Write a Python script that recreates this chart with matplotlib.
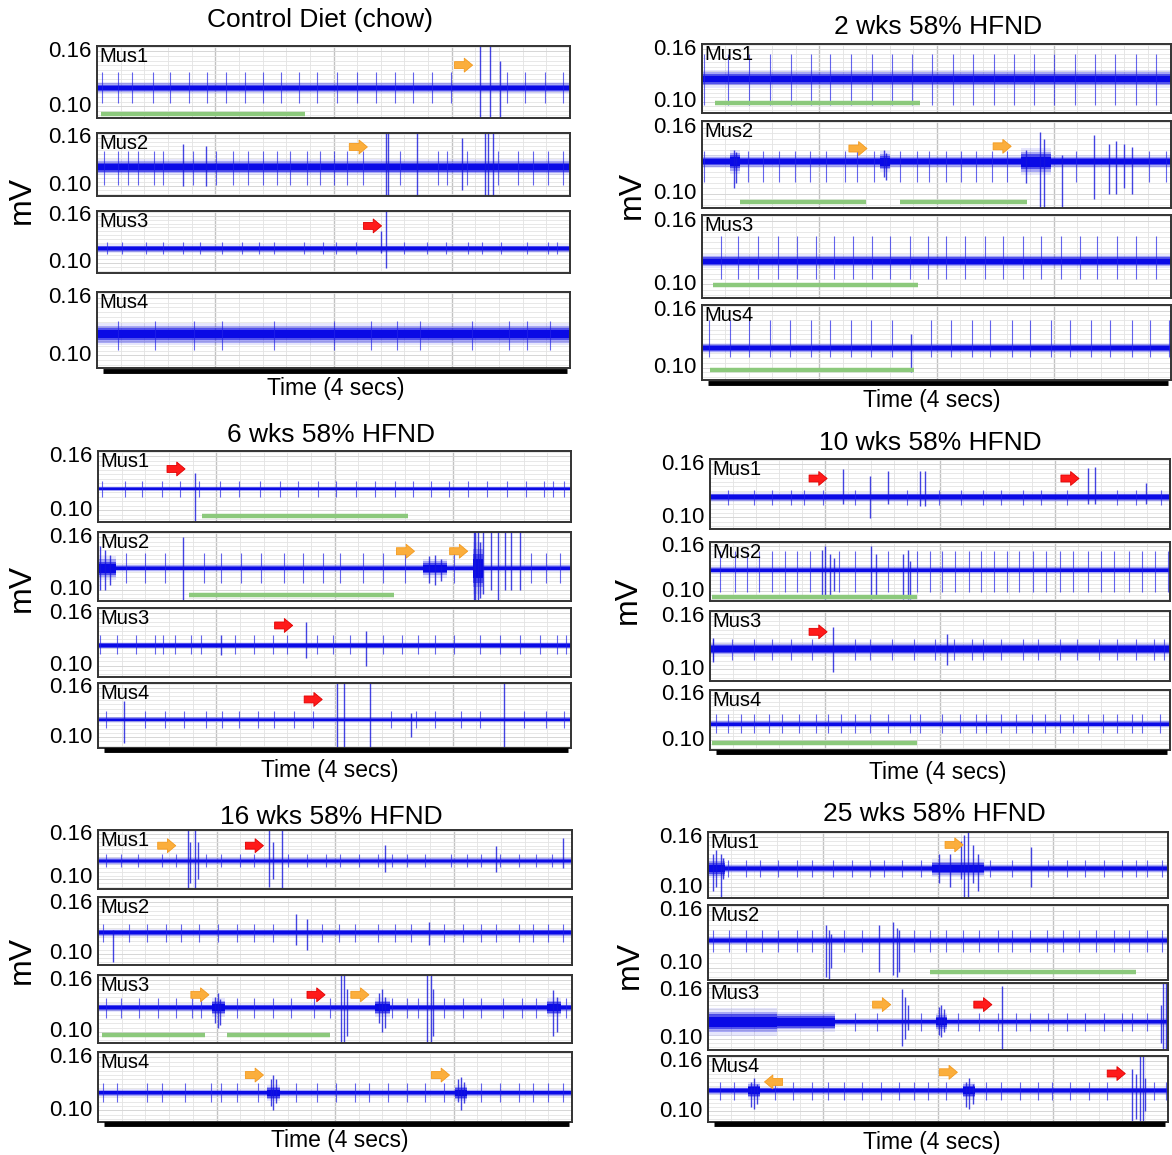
import numpy as np
import matplotlib
matplotlib.use('Agg')
import matplotlib.pyplot as plt
from matplotlib.transforms import offset_copy, blended_transform_factory

plt.rcParams['font.family'] = ['Liberation Sans', 'DejaVu Sans']

# ------------------------------------------------------------------ data
MUSCLES = ['Mus1', 'Mus2', 'Mus3', 'Mus4']
YTICKS = [0.10, 0.16]
YTICK_LABELS = ['0.10', '0.16']
YLABEL = 'mV'
TIME_LABEL = 'Time (4 secs)'
TITLES = ['Control Diet (chow)', '2 wks 58% HFND', '6 wks 58% HFND',
          '10 wks 58% HFND', '16 wks 58% HFND', '25 wks 58% HFND']

# ---- Control
ctrl_base = [0.120, 0.123, 0.118, 0.122]
ctrl_noise = [0.0050, 0.0075, 0.0040, 0.0085]
ctrl_up = [0.017, 0.020, 0.008, 0.014]
ctrl_dn = [0.017, 0.022, 0.007, 0.016]
ctrl_spikes = [
    [0.04, 0.18, 0.30, 0.47, 0.62, 0.78, 0.93, 1.09, 1.25, 1.40, 1.56, 1.71, 1.86, 2.03, 2.20,
     2.36, 2.52, 2.67, 2.83, 2.99, 3.47, 3.62, 3.79, 3.94],
    [0.06, 0.18, 0.26, 0.35, 0.48, 0.56, 0.81, 1.01, 1.15, 1.28, 1.40, 1.52, 1.63, 1.78, 1.89,
     2.00, 2.11, 2.25, 2.56, 2.88, 2.96, 3.13, 3.39, 3.56, 3.69, 3.81, 3.94],
    [0.085, 0.21, 0.415, 0.557, 0.73, 0.87, 1.06, 1.23, 1.37, 1.50, 1.75, 1.91, 2.02, 2.19,
     2.60, 2.79, 2.95, 3.14, 3.26, 3.42, 3.64, 3.81, 3.89],
    [0.18, 0.49, 0.82, 1.06, 1.50, 2.00, 2.32, 2.54, 2.73, 3.17, 3.48, 3.64, 3.83],
]
ctrl_bursts = [
    [(3.24, 0.166, 0.087), (3.32, 0.166, 0.087), (3.41, 0.150, 0.087)],
    [(0.73, 0.152, 0.100), (0.92, 0.150, 0.100), (2.44, 0.166, 0.087), (2.46, 0.166, 0.087),
     (2.71, 0.166, 0.087), (3.09, 0.160, 0.095), (3.28, 0.166, 0.087), (3.31, 0.166, 0.087),
     (3.35, 0.166, 0.087)],
    [(2.40, 0.140, 0.112), (2.44, 0.166, 0.093)],
    [],
]
ctrl_green = [[(0.03, 1.76, 0.091)], [], [], []]
ctrl_arrows = [[(3.10, 0.145, 'o', 'r')], [(2.21, 0.1485, 'o', 'r')], [(2.33, 0.147, 'r', 'r')], []]
ctrl_extra = [[], [], [], []]

# ---- 2 wks
w2_base = [0.126, 0.129, 0.122, 0.1207]
w2_noise = [0.0075, 0.0045, 0.0050, 0.0040]
w2_up = [0.028, 0.010, 0.024, 0.030]
w2_dn = [0.030, 0.018, 0.017, 0.010]
w2_spikes = [
    [0.02, 0.22, 0.40, 0.58, 0.76, 0.93, 1.09, 1.27, 1.45, 1.62, 1.79, 1.96, 2.14, 2.31, 2.49,
     2.66, 2.83, 3.00, 3.18, 3.35, 3.52, 3.70, 3.87],
    [0.02, 0.39, 0.52, 0.66, 0.79, 0.92, 1.06, 1.22, 1.32, 1.47, 1.69, 1.83, 1.94, 2.08, 2.21,
     2.34, 2.47, 2.60, 3.19, 3.81, 3.96],
    [0.16, 0.31, 0.48, 0.65, 0.81, 0.97, 1.13, 1.29, 1.45, 1.60, 1.77, 1.93, 2.08, 2.24, 2.41,
     2.57, 2.74, 2.89, 3.06, 3.22, 3.37, 3.54, 3.70, 3.87],
    [0.06, 0.24, 0.40, 0.58, 0.75, 0.93, 1.09, 1.27, 1.44, 1.62, 1.95, 2.12, 2.30, 2.46, 2.64,
     2.80, 2.98, 3.14, 3.32, 3.48, 3.67, 3.82, 3.98],
]
w2_bursts = [
    [],
    [(0.27, 0.140, 0.105), (0.29, 0.138, 0.110), (1.55, 0.140, 0.115), (1.57, 0.137, 0.112),
     (2.76, 0.140, 0.110), (2.88, 0.156, 0.087), (2.92, 0.150, 0.087), (3.07, 0.135, 0.087),
     (3.34, 0.153, 0.095), (3.47, 0.145, 0.100), (3.53, 0.148, 0.100), (3.60, 0.145, 0.105),
     (3.67, 0.142, 0.100)],
    [],
    [(1.78, 0.135, 0.095)],
]
w2_green = [[(0.11, 1.86, 0.0985)], [(0.32, 1.40, 0.0925), (1.69, 2.77, 0.0925)],
            [(0.09, 1.84, 0.0993)], [(0.07, 1.81, 0.0975)]]
w2_arrows = [[], [(1.33, 0.141, 'o', 'r'), (2.56, 0.143, 'o', 'r')], [], []]
w2_extra = [[], [(0.24, 0.32, 0.008), (1.52, 1.60, 0.007), (2.72, 2.98, 0.009)], [], []]

# ---- 6 wks
w6_base = [0.124, 0.1246, 0.123, 0.1214]
w6_noise = [0.0022, 0.0035, 0.0032, 0.0028]
w6_up = [0.009, 0.017, 0.012, 0.011]
w6_dn = [0.009, 0.017, 0.010, 0.010]
w6_spikes = [
    [0.03, 0.23, 0.37, 0.54, 0.69, 0.85, 1.03, 1.19, 1.37, 1.54, 1.69, 1.86, 2.01, 2.18, 2.34,
     2.51, 2.66, 2.82, 2.97, 3.13, 3.29, 3.46, 3.62, 3.77, 3.85, 3.94],
    [0.24, 0.40, 0.57, 0.90, 1.04, 1.21, 1.38, 1.57, 1.73, 1.90, 2.05, 2.24, 2.41, 2.60, 3.01,
     3.66, 3.79, 3.91],
    [0.02, 0.16, 0.32, 0.48, 0.55, 0.65, 0.79, 0.87, 1.16, 1.32, 1.48, 1.60, 1.85, 1.99, 2.13,
     2.41, 2.57, 2.71, 2.85, 3.01, 3.23, 3.40, 3.57, 3.74, 3.88, 3.96],
    [0.07, 0.40, 0.57, 0.73, 0.91, 1.05, 1.19, 1.35, 1.49, 1.66, 1.82, 2.48, 2.69, 2.85, 3.07,
     3.23, 3.60, 3.79, 3.94],
]
w6_bursts = [
    [(0.82, 0.142, 0.087)],
    [(0.02, 0.150, 0.100), (0.06, 0.145, 0.100), (0.10, 0.140, 0.105), (0.72, 0.160, 0.087),
     (2.80, 0.138, 0.108), (2.85, 0.140, 0.105), (2.90, 0.135, 0.110), (3.18, 0.166, 0.087),
     (3.19, 0.166, 0.087), (3.21, 0.166, 0.087), (3.23, 0.155, 0.090), (3.26, 0.166, 0.095),
     (3.32, 0.166, 0.100), (3.38, 0.166, 0.087), (3.44, 0.166, 0.100), (3.49, 0.166, 0.100),
     (3.57, 0.166, 0.100)],
    [(1.04, 0.135, 0.112), (1.76, 0.150, 0.109), (2.27, 0.140, 0.100)],
    [(0.22, 0.144, 0.093), (2.02, 0.166, 0.087), (2.08, 0.166, 0.087), (2.30, 0.166, 0.087),
     (2.65, 0.130, 0.100), (3.43, 0.166, 0.087)],
]
w6_green = [[(0.88, 2.62, 0.0937)], [(0.77, 2.50, 0.0933)], [], []]
w6_arrows = [[(0.66, 0.146, 'r', 'r')], [(2.60, 0.144, 'o', 'r'), (3.05, 0.144, 'o', 'r')],
             [(1.57, 0.146, 'r', 'r')], [(1.82, 0.146, 'r', 'r')]]
w6_extra = [[], [(0.0, 0.15, 0.010), (2.75, 2.95, 0.008), (3.17, 3.26, 0.022)], [], []]

# ---- 10 wks
w10_base = [0.123, 0.1285, 0.123, 0.1208]
w10_noise = [0.0040, 0.0040, 0.0060, 0.0038]
w10_up = [0.0085, 0.025, 0.011, 0.013]
w10_dn = [0.009, 0.030, 0.012, 0.012]
w10_spikes = [
    [0.16, 0.38, 0.54, 0.70, 0.82, 0.98, 1.26, 1.71, 1.99, 2.18, 2.37, 2.53, 2.72, 2.88, 3.10,
     3.54, 3.70, 3.92],
    [0.09, 0.22, 0.32, 0.43, 0.54, 0.65, 0.76, 0.87, 1.12, 1.26, 1.55, 1.80, 1.91, 2.02, 2.13,
     2.25, 2.36, 2.47, 2.58, 2.69, 2.81, 2.92, 3.04, 3.16, 3.29, 3.40, 3.51, 3.64, 3.76, 3.87,
     3.98],
    [0.03, 0.19, 0.38, 0.54, 0.70, 0.89, 1.26, 1.39, 1.58, 1.77, 1.96, 2.12, 2.28, 2.37, 2.53,
     2.72, 2.85, 3.04, 3.19, 3.38, 3.54, 3.70, 3.86, 3.95],
    [0.05, 0.16, 0.27, 0.38, 0.51, 0.63, 0.77, 0.92, 1.03, 1.14, 1.26, 1.39, 1.55, 1.74, 1.83,
     2.02, 2.17, 2.31, 2.40, 2.53, 2.66, 2.80, 2.91, 3.04, 3.16, 3.29, 3.42, 3.54, 3.67, 3.76,
     3.91],
]
w10_bursts = [
    [(1.16, 0.1545, 0.115), (1.39, 0.147, 0.099), (1.55, 0.152, 0.115), (1.83, 0.152, 0.113),
     (1.87, 0.152, 0.113), (3.29, 0.156, 0.115), (3.35, 0.157, 0.115), (3.79, 0.139, 0.115)],
    [(0.97, 0.155, 0.092), (1.00, 0.160, 0.090), (1.04, 0.150, 0.095), (1.08, 0.145, 0.100),
     (1.40, 0.160, 0.090), (1.44, 0.150, 0.092), (1.68, 0.150, 0.090), (1.72, 0.155, 0.090),
     (1.74, 0.140, 0.090)],
    [(0.03, 0.135, 0.108), (1.07, 0.148, 0.097), (2.06, 0.140, 0.105)],
    [],
]
w10_green = [[], [(0.02, 1.80, 0.0925)], [], [(0.02, 1.80, 0.0964)]]
w10_arrows = [[(0.94, 0.144, 'r', 'r'), (3.13, 0.144, 'r', 'r')], [], [(0.94, 0.1425, 'r', 'r')], []]
w10_extra = [[], [], [], []]

# ---- 16 wks
w16_base = [0.1245, 0.1246, 0.1282, 0.1198]
w16_noise = [0.0036, 0.0035, 0.0035, 0.0035]
w16_up = [0.010, 0.010, 0.011, 0.011]
w16_dn = [0.008, 0.011, 0.012, 0.010]
w16_spikes = [
    [0.07, 0.19, 0.34, 0.54, 0.66, 0.91, 1.04, 1.20, 1.32, 1.60, 1.76, 1.92, 2.04, 2.20, 2.36,
     2.48, 2.61, 2.76, 2.98, 3.11, 3.23, 3.39, 3.55, 3.70, 3.83],
    [0.04, 0.26, 0.41, 0.57, 0.70, 0.85, 1.01, 1.17, 1.32, 1.48, 1.89, 2.03, 2.17, 2.36, 2.51,
     2.64, 2.92, 3.08, 3.23, 3.36, 3.55, 3.67, 3.80, 3.92],
    [0.07, 0.19, 0.35, 0.51, 0.66, 0.79, 0.87, 1.17, 1.32, 1.48, 1.63, 1.82, 1.96, 2.48, 2.61,
     2.70, 2.92, 3.08, 3.23, 3.42, 3.58, 3.70, 3.95],
    [0.04, 0.16, 0.41, 0.54, 0.73, 0.95, 1.04, 1.17, 1.35, 1.67, 1.85, 2.01, 2.17, 2.29, 2.45,
     2.61, 2.76, 2.92, 3.23, 3.39, 3.55, 3.67, 3.80, 3.92],
]
w16_bursts = [
    [(0.76, 0.166, 0.087), (0.78, 0.150, 0.095), (0.82, 0.166, 0.087), (0.84, 0.150, 0.100),
     (1.44, 0.166, 0.090), (1.48, 0.150, 0.100), (1.55, 0.166, 0.087), (2.42, 0.1455, 0.110),
     (3.36, 0.145, 0.110), (3.92, 0.155, 0.115)],
    [(0.13, 0.128, 0.090), (1.67, 0.146, 0.110), (1.76, 0.140, 0.105), (2.79, 0.137, 0.110)],
    [(0.99, 0.140, 0.110), (1.01, 0.145, 0.105), (1.03, 0.138, 0.108), (2.05, 0.166, 0.087),
     (2.08, 0.166, 0.087), (2.10, 0.150, 0.095), (2.37, 0.145, 0.110), (2.40, 0.150, 0.100),
     (2.42, 0.140, 0.105), (2.78, 0.166, 0.087), (2.81, 0.166, 0.087), (2.83, 0.150, 0.095),
     (3.84, 0.148, 0.095), (3.87, 0.140, 0.100)],
    [(1.46, 0.135, 0.105), (1.48, 0.140, 0.100), (1.50, 0.135, 0.108), (3.04, 0.135, 0.110),
     (3.06, 0.138, 0.100), (3.09, 0.132, 0.108)],
]
w16_green = [[], [], [(0.03, 0.90, 0.0965), (1.09, 1.96, 0.0965)], []]
w16_arrows = [[(0.58, 0.145, 'o', 'r'), (1.32, 0.145, 'r', 'r')], [],
              [(0.86, 0.143, 'o', 'r'), (1.84, 0.143, 'r', 'r'), (2.21, 0.143, 'o', 'r')],
              [(1.32, 0.140, 'o', 'r'), (2.89, 0.140, 'o', 'r')]]
w16_extra = [[], [], [(0.96, 1.07, 0.008), (2.34, 2.46, 0.008), (3.79, 3.91, 0.008)],
             [(1.43, 1.54, 0.007), (3.01, 3.11, 0.007)]]

# ---- 25 wks
w25_base = [0.1225, 0.1286, 0.1202, 0.1244]
w25_noise = [0.0042, 0.0037, 0.0034, 0.0037]
w25_up = [0.010, 0.011, 0.011, 0.010]
w25_dn = [0.010, 0.012, 0.011, 0.011]
w25_spikes = [
    [0.17, 0.33, 0.45, 0.61, 0.77, 0.90, 1.09, 1.25, 1.41, 1.53, 1.69, 1.85, 2.45, 2.64, 2.96,
     3.12, 3.28, 3.44, 3.60, 3.72, 3.82, 3.95],
    [0.04, 0.18, 0.33, 0.47, 0.61, 0.77, 0.90, 1.18, 1.34, 1.79, 1.93, 2.07, 2.22, 2.36, 2.52,
     2.64, 2.80, 2.95, 3.09, 3.23, 3.37, 3.53, 3.66, 3.82, 3.95],
    [1.28, 1.47, 1.85, 2.17, 2.36, 2.52, 2.68, 2.80, 2.96, 3.12, 3.28, 3.44, 3.60, 3.69, 3.82],
    [0.10, 0.23, 0.58, 0.74, 0.90, 1.04, 1.18, 1.34, 1.50, 1.66, 1.79, 1.91, 2.07, 2.42, 2.55,
     2.71, 2.87, 2.99, 3.15, 3.31, 3.47, 3.88, 3.98],
]
w25_bursts = [
    [(0.04, 0.140, 0.095), (0.07, 0.145, 0.100), (0.11, 0.140, 0.087), (0.13, 0.135, 0.110),
     (2.01, 0.140, 0.105), (2.10, 0.140, 0.100), (2.20, 0.155, 0.110), (2.23, 0.162, 0.087),
     (2.26, 0.166, 0.087), (2.30, 0.150, 0.105), (2.35, 0.140, 0.095), (2.81, 0.148, 0.100)],
    [(1.03, 0.145, 0.090), (1.05, 0.140, 0.087), (1.07, 0.135, 0.100), (1.49, 0.145, 0.095),
     (1.61, 0.148, 0.092), (1.64, 0.142, 0.090), (1.66, 0.140, 0.095)],
    [(1.69, 0.159, 0.092), (1.71, 0.150, 0.100), (1.74, 0.140, 0.110), (2.01, 0.138, 0.105),
     (2.03, 0.140, 0.102), (2.05, 0.135, 0.108), (2.56, 0.163, 0.087), (3.94, 0.140, 0.095),
     (3.96, 0.166, 0.087), (3.98, 0.166, 0.087)],
    [(0.37, 0.135, 0.105), (0.40, 0.140, 0.103), (0.43, 0.132, 0.108), (2.24, 0.135, 0.105),
     (2.27, 0.140, 0.102), (2.30, 0.133, 0.108), (3.69, 0.150, 0.087), (3.72, 0.145, 0.090),
     (3.76, 0.166, 0.087), (3.78, 0.166, 0.087), (3.80, 0.140, 0.100)],
]
w25_green = [[], [(1.93, 3.72, 0.0953)], [], []]
w25_arrows = [[(2.14, 0.1506, 'o', 'r')], [],
              [(1.51, 0.1405, 'o', 'r'), (2.39, 0.1405, 'r', 'r')],
              [(0.57, 0.135, 'o', 'l'), (2.09, 0.1465, 'o', 'r'), (3.55, 0.145, 'r', 'r')]]
w25_extra = [[(0.0, 0.15, 0.009), (1.95, 2.40, 0.008)], [],
             [(0.0, 0.6, 0.012), (0.6, 1.1, 0.009), (1.98, 2.08, 0.008)],
             [(0.35, 0.45, 0.008), (2.22, 2.32, 0.008)]]

PANEL_DATA = [
    (ctrl_base, ctrl_noise, ctrl_up, ctrl_dn, ctrl_spikes, ctrl_bursts, ctrl_green, ctrl_arrows, ctrl_extra),
    (w2_base, w2_noise, w2_up, w2_dn, w2_spikes, w2_bursts, w2_green, w2_arrows, w2_extra),
    (w6_base, w6_noise, w6_up, w6_dn, w6_spikes, w6_bursts, w6_green, w6_arrows, w6_extra),
    (w10_base, w10_noise, w10_up, w10_dn, w10_spikes, w10_bursts, w10_green, w10_arrows, w10_extra),
    (w16_base, w16_noise, w16_up, w16_dn, w16_spikes, w16_bursts, w16_green, w16_arrows, w16_extra),
    (w25_base, w25_noise, w25_up, w25_dn, w25_spikes, w25_bursts, w25_green, w25_arrows, w25_extra),
]

# ------------------------------------------------------------------ layout (pixels)
W, H = 1172, 1155
LAYOUT = [
    # left, right, strips (top, bottom), title (x, y), time label (x, y), mV (x, y)
    (97, 570, [(46, 118), (133, 196), (211, 273), (292, 368)], (320, 20), (336, 388), (22, 200)),
    (702, 1171, [(44, 113), (121, 208), (215, 298), (305, 380)], (938, 27), (932, 400), (632, 195)),
    (98, 571, [(451, 522), (532, 601), (608, 677), (683, 748)], (331, 435), (330, 770), (22, 588)),
    (710, 1170, [(459, 529), (542, 601), (611, 681), (690, 750)], (930, 443), (938, 773), (628, 600)),
    (98, 572, [(830, 889), (897, 965), (975, 1043), (1052, 1122)], (331, 817), (340, 1141), (22, 960)),
    (708, 1168, [(832, 898), (905, 980), (983, 1050), (1056, 1122)], (934, 814), (932, 1142), (630, 965)),
]
# small vertical nudges (points) of the tick labels where neighbouring strips touch
LABEL_NUDGE = {(5, 1, 0.10): 3.0, (5, 2, 0.16): -1.5, (4, 0, 0.10): 1.0, (4, 1, 0.16): -1.0}

YMIN, YMAX = 0.087, 0.166
TRACE = '#0a0ae6'
SPIKE = '#2222e8'
GREEN = '#8cc97c'
ARROW_FC = {'o': '#fbae3c', 'r': '#ff1a1a'}
ARROW_EC = {'o': '#f39a1e', 'r': '#e00000'}
BAND_LAYERS = [(1.35, 0.10), (1.0, 0.28), (0.75, 0.55), (0.5, 1.0)]
TICK_FS = 16

fig = plt.figure(figsize=(W / 100, H / 100), dpi=100)


def band_profile(noise, extra):
    xs = sorted(set([0.0, 4.0] + [s[0] for s in extra] + [s[1] for s in extra]))
    ws = []
    for a in xs:
        w = noise
        for s in extra:
            if s[0] <= a < s[1]:
                w = s[2]
        ws.append(w)
    return np.array(xs), np.array(ws)


def draw_arrow(ax, x, y, col, direction):
    sgn = 1 if direction == 'r' else -1
    tip = offset_copy(ax.transData, fig=fig, x=sgn * 6.5, y=0, units='points')
    tail = offset_copy(ax.transData, fig=fig, x=-sgn * 6.5, y=0, units='points')
    ax.annotate('', xy=(x, y), xycoords=tip, xytext=(x, y), textcoords=tail,
                arrowprops=dict(arrowstyle='simple,head_length=0.6,head_width=1.0,tail_width=0.5',
                                fc=ARROW_FC[col], ec=ARROW_EC[col], lw=0.6,
                                mutation_scale=10, shrinkA=0, shrinkB=0),
                annotation_clip=False, zorder=6)


for p, (title, data, lay) in enumerate(zip(TITLES, PANEL_DATA, LAYOUT)):
    base, noise, up, dn, spikes, bursts, green, arrows, extra = data
    left, right, strips, tpos, timepos, mvpos = lay
    axes = []
    for i, (top, bot) in enumerate(strips):
        ax = fig.add_axes([left / W, 1 - bot / H, (right - left) / W, (bot - top) / H])
        axes.append(ax)
        ax.set_xlim(0, 4)
        ax.set_ylim(YMIN, YMAX)
        ax.set_xticks([1, 2, 3])
        ax.set_xticks(np.arange(0.2, 4.0, 0.2), minor=True)
        ax.set_yticks(YTICKS)
        ax.set_yticks(np.arange(0.090, 0.166, 0.005), minor=True)
        ax.grid(which='minor', axis='y', color='#e4e4e4', lw=0.6)
        ax.grid(which='major', axis='y', color='#d6d6d6', lw=0.7)
        ax.grid(which='minor', axis='x', color='#e2e2e2', lw=0.6)
        ax.grid(which='major', axis='x', color='#c2c2c2', lw=1.0)
        ax.set_axisbelow(True)
        ax.tick_params(which='both', length=0, labelbottom=False, labelleft=False)
        for s in ax.spines.values():
            s.set_color('#333333')
            s.set_linewidth(1.4)

        # y tick labels (drawn as texts so that touching strips can be nudged apart)
        ytrans = blended_transform_factory(ax.transAxes, ax.transData)
        for val, lab in zip(YTICKS, YTICK_LABELS):
            dy = LABEL_NUDGE.get((p, i, val), 0.0)
            tr = offset_copy(ytrans, fig=fig, x=-4, y=dy, units='points')
            ax.text(0, val, lab, transform=tr, ha='right', va='center', fontsize=TICK_FS)

        xs, ws = band_profile(noise[i], extra[i])
        for k, (f, a) in enumerate(BAND_LAYERS):
            ax.fill_between(xs, base[i] - f * ws, base[i] + f * ws, step='post',
                            color=TRACE, alpha=a, lw=0, zorder=2 + 0.05 * k)
        ax.vlines(spikes[i], base[i] - dn[i], base[i] + up[i], color=SPIKE,
                  lw=0.8, alpha=0.7, zorder=2.4)
        if bursts[i]:
            bx = [b[0] for b in bursts[i]]
            bhi = [b[1] for b in bursts[i]]
            blo = [b[2] for b in bursts[i]]
            ax.vlines(bx, blo, bhi, color='#1414dc', lw=1.0, alpha=0.8, zorder=2.5)
        for (x0, x1, gy) in green[i]:
            ax.hlines(gy, x0, x1, color=GREEN, lw=3.2, zorder=4)
        for (ax_x, ax_y, col, d) in arrows[i]:
            draw_arrow(ax, ax_x, ax_y, col, d)
        ax.text(0.006, 0.99, MUSCLES[i], transform=ax.transAxes, ha='left', va='top',
                fontsize=14.5, zorder=7)

    # scale bar under the bottom strip
    axb = axes[-1]
    axb.plot([0.013, 0.993], [-0.035, -0.035], transform=axb.transAxes, color='black',
             lw=3.5, solid_capstyle='butt', clip_on=False, zorder=8)

    fig.text(tpos[0] / W, 1 - tpos[1] / H, title, ha='center', va='center', fontsize=19)
    fig.text(timepos[0] / W, 1 - timepos[1] / H, TIME_LABEL, ha='center', va='center',
             fontsize=16.5)
    fig.text(mvpos[0] / W, 1 - mvpos[1] / H, YLABEL, ha='center', va='center',
             rotation=90, fontsize=23)

fig.savefig('out.png', dpi=100)
